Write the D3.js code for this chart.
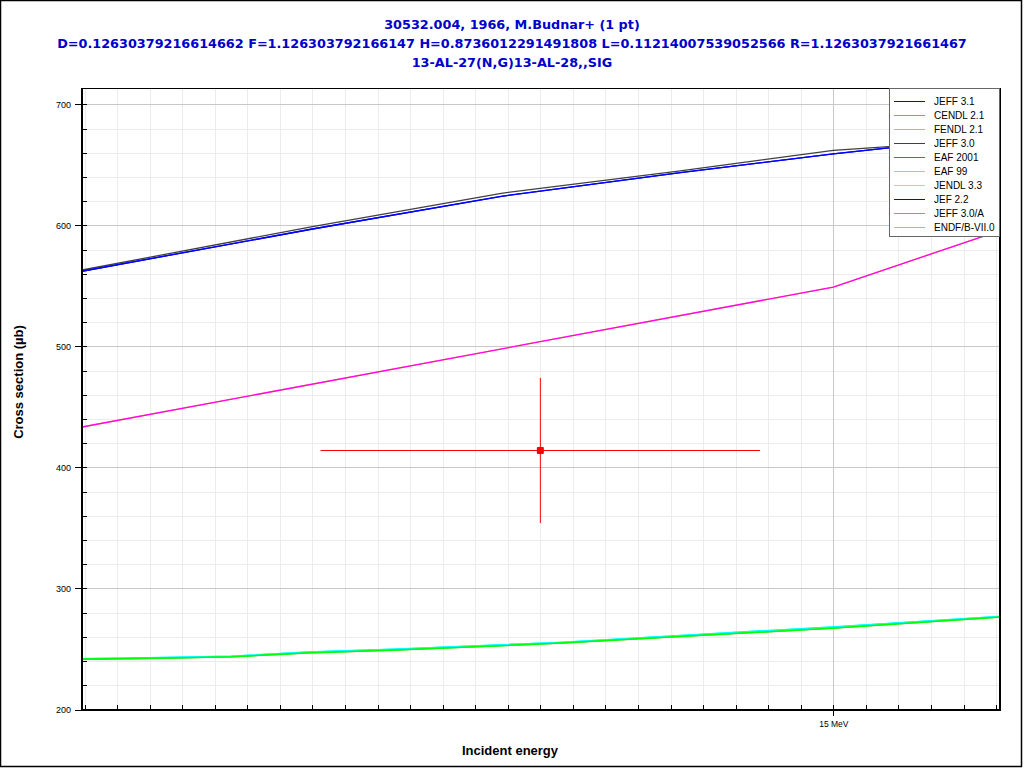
<!DOCTYPE html>
<html>
<head>
<meta charset="utf-8">
<script src="https://cdn.jsdelivr.net/npm/d3@7"></script>
<style>
html,body{margin:0;padding:0;background:#fff;}
svg{display:block;}
</style>
</head>
<body>
<svg id="chart" width="1024" height="768"></svg>
<script>
// ---- data ----
const titleLines = [
  "30532.004, 1966, M.Budnar+ (1 pt)",
  "D=0.12630379216614662 F=1.126303792166147 H=0.8736012291491808 L=0.11214007539052566 R=1.1263037921661467",
  "13-AL-27(N,G)13-AL-28,,SIG"
];
const xTitle = "Incident energy";
const yTitle = "Cross section (\u00b5b)";
const yTicks = [200, 300, 400, 500, 600, 700];
const xMajorTicks = [15];
const xTickLabels = ["15 MeV"];

const energyUpper = [12.69, 13.4, 13.98, 14.53, 15.0, 15.17, 15.51];
const jeff31 = [562.0, 597.0, 624.0, 643.5, 659.0, 664.0, 672.0];
const jeff30 = [563.0, 599.0, 626.5, 645.0, 662.0, 665.0, 670.0];
const jef22  = [562.0, 597.0, 624.0, 643.5, 659.0, 664.0, 672.0];

const energyEaf = [12.69, 15.0, 15.51];
const eaf2001 = [433.3, 549.0, 595.5];
const eaf99   = [433.3, 549.0, 595.5];

const energyLower = [12.69, 12.95, 13.15, 13.39, 13.65, 14.16, 15.0, 15.51];
const cendl21  = [241.5, 242.4, 243.5, 246.8, 249.0, 254.8, 267.2, 276.3];
const fendl21  = [242.1, 243.0, 244.1, 247.5, 249.8, 255.5, 268.3, 276.9];
const jendl33  = [241.3, 242.3, 243.4, 246.7, 248.9, 254.7, 267.0, 276.2];
const jeff30a  = [241.5, 242.4, 243.5, 246.8, 249.0, 254.8, 267.2, 276.3];
const endfb70  = [242.1, 243.0, 244.1, 247.5, 249.8, 255.5, 268.3, 276.9];

const expE = [14.1], expDE = [0.675], expSig = [414], expDSig = [60];

const legendNames = ["JEFF 3.1","CENDL 2.1","FENDL 2.1","JEFF 3.0","EAF 2001","EAF 99","JENDL 3.3","JEF 2.2","JEFF 3.0/A","ENDF/B-VII.0"];
const legendColors = ["#0000ff","#00ff00","#00ffff","#404040","#ff00ff","#ffc000","#ffb0b0","#0000ff","#00ff00","#00ffff"];

// ---- drawing ----
const svg = d3.select("#chart");
const L = 82, R = 1000, T = 88, B = 710;
const x = d3.scaleLinear().domain([12.692, 15.512]).range([L, R]);
const y = d3.scaleLinear().domain([200, 713.5]).range([709.5, T]);

// outer frame
svg.append("rect").attr("x",0.5).attr("y",0.5).attr("width",1021).attr("height",766)
  .attr("fill","#fff").attr("stroke","#000").attr("stroke-width",1.5);

const g = svg.append("g");
// minor grid
const xMinor = d3.range(127, 156).map(v => v / 10).filter(v => Math.abs(v - 15) > 1e-6);
const yMinor = d3.range(220, 714, 20).filter(v => v % 100 !== 0);
g.selectAll(".gxm").data(xMinor).enter().append("line")
  .attr("x1", d => Math.round(x(d)) + 0.5).attr("x2", d => Math.round(x(d)) + 0.5)
  .attr("y1", T).attr("y2", B).attr("stroke", "#ececec").attr("stroke-width", 1);
g.selectAll(".gym").data(yMinor).enter().append("line")
  .attr("y1", d => Math.round(y(d)) + 0.5).attr("y2", d => Math.round(y(d)) + 0.5)
  .attr("x1", L).attr("x2", R).attr("stroke", "#ececec").attr("stroke-width", 1);
// major grid
g.selectAll(".gxM").data(xMajorTicks).enter().append("line")
  .attr("x1", d => Math.round(x(d)) + 0.5).attr("x2", d => Math.round(x(d)) + 0.5)
  .attr("y1", T).attr("y2", B).attr("stroke", "#c8c8c8").attr("stroke-width", 1);
g.selectAll(".gyM").data(yTicks.filter(v => v > 200)).enter().append("line")
  .attr("y1", d => Math.round(y(d)) + 0.5).attr("y2", d => Math.round(y(d)) + 0.5)
  .attr("x1", L).attr("x2", R).attr("stroke", "#c8c8c8").attr("stroke-width", 1);

// curves
const series = [
  {e: energyEaf, v: eaf99, c: legendColors[5]},
  {e: energyLower, v: jendl33, c: legendColors[6]},
  {e: energyLower, v: fendl21, c: legendColors[2]},
  {e: energyLower, v: endfb70, c: legendColors[9]},
  {e: energyLower, v: cendl21, c: legendColors[1]},
  {e: energyLower, v: jeff30a, c: legendColors[8]},
  {e: energyEaf, v: eaf2001, c: legendColors[4]},
  {e: energyUpper, v: jeff30, c: legendColors[3]},
  {e: energyUpper, v: jef22, c: legendColors[7]},
  {e: energyUpper, v: jeff31, c: legendColors[0]}
];
const line = d3.line().x(d => x(d[0])).y(d => y(d[1]));
svg.append("clipPath").attr("id","pc").append("rect")
  .attr("x", L).attr("y", T).attr("width", R - L).attr("height", B - T);
const cg = svg.append("g").attr("clip-path","url(#pc)");
series.forEach(s => {
  cg.append("path").datum(s.e.map((e, i) => [e, s.v[i]]))
    .attr("d", line).attr("fill","none").attr("stroke", s.c).attr("stroke-width", 1.3);
});

// experimental point
const ptg = cg.append("g");
expE.forEach((e, i) => {
  ptg.append("line").attr("x1", x(e - expDE[i])).attr("x2", x(e + expDE[i]))
    .attr("y1", y(expSig[i])).attr("y2", y(expSig[i])).attr("stroke", "#ff0000").attr("stroke-width", 1);
  ptg.append("line").attr("x1", x(e)).attr("x2", x(e))
    .attr("y1", y(expSig[i] - expDSig[i])).attr("y2", y(expSig[i] + expDSig[i])).attr("stroke", "#ff0000").attr("stroke-width", 1);
  ptg.append("rect").attr("x", x(e) - 3.5).attr("y", y(expSig[i]) - 3.5).attr("width", 7).attr("height", 7)
    .attr("rx", 1).attr("fill", "#ff0000");
});

// frame of plot
svg.append("line").attr("x1", L).attr("x2", R).attr("y1", T + 0.5).attr("y2", T + 0.5).attr("stroke", "#000");
svg.append("line").attr("x1", R).attr("x2", R).attr("y1", T).attr("y2", B + 1).attr("stroke", "#000").attr("stroke-width", 2);
svg.append("line").attr("x1", L).attr("x2", L).attr("y1", T).attr("y2", B + 1).attr("stroke", "#000").attr("stroke-width", 2);
svg.append("line").attr("x1", L - 1).attr("x2", R + 1).attr("y1", B).attr("y2", B).attr("stroke", "#000").attr("stroke-width", 2);

// ticks
const tg = svg.append("g").attr("stroke", "#000").attr("stroke-width", 1);
yMinor.forEach(v => tg.append("line").attr("x1", L).attr("x2", L + 5)
  .attr("y1", Math.round(y(v)) + 0.5).attr("y2", Math.round(y(v)) + 0.5));
yTicks.forEach(v => tg.append("line").attr("x1", L - 7).attr("x2", L + 5)
  .attr("y1", Math.round(y(v)) + 0.5).attr("y2", Math.round(y(v)) + 0.5));
xMinor.forEach(v => tg.append("line").attr("y1", B).attr("y2", B - 5)
  .attr("x1", Math.round(x(v)) + 0.5).attr("x2", Math.round(x(v)) + 0.5));
xMajorTicks.forEach(v => tg.append("line").attr("y1", B - 5).attr("y2", B + 6)
  .attr("x1", Math.round(x(v)) + 0.5).attr("x2", Math.round(x(v)) + 0.5));

const fnt = "'Liberation Sans', Arial, sans-serif";
svg.selectAll(".yl").data(yTicks).enter().append("text")
  .attr("x", 71).attr("y", d => y(d) + 3.5).attr("text-anchor", "end")
  .attr("font-family", fnt).attr("font-size", 9).attr("fill", "#000").text(d => d);
svg.selectAll(".xl").data(xMajorTicks).enter().append("text")
  .attr("x", d => x(d) + 0.5).attr("y", 727).attr("text-anchor", "middle")
  .attr("font-family", fnt).attr("font-size", 8.5).attr("fill", "#000").text((d, i) => xTickLabels[i]);

// axis titles
svg.append("text").attr("x", 510).attr("y", 755).attr("text-anchor", "middle")
  .attr("font-family", fnt).attr("font-weight", "bold").attr("font-size", 13).text(xTitle);
svg.append("text").attr("transform", "translate(23,382) rotate(-90)").attr("text-anchor", "middle")
  .attr("font-family", fnt).attr("font-weight", "bold").attr("font-size", 13).text(yTitle);

// title
const tb = [29, 48, 67];
titleLines.forEach((t, i) => svg.append("text").attr("x", 512).attr("y", tb[i]).attr("text-anchor", "middle")
  .attr("font-family", "'DejaVu Sans', sans-serif").attr("font-weight", "bold").attr("font-size", 12.8)
  .attr("fill", "#0000cc").text(t));

// legend
const lg = svg.append("g");
lg.append("rect").attr("x", 889.5).attr("y", 88.5).attr("width", 110).attr("height", 148)
  .attr("fill", "#fff").attr("stroke", "#666").attr("stroke-width", 1);
legendNames.forEach((n, i) => {
  const yy = 101 + i * 14;
  lg.append("line").attr("x1", 894).attr("x2", 925).attr("y1", yy + 0.5).attr("y2", yy + 0.5)
    .attr("stroke", legendColors[i]).attr("stroke-width", 1);
  lg.append("text").attr("x", 934).attr("y", yy + 3.5).attr("font-family", fnt).attr("font-size", 10)
    .attr("fill", "#000").text(n);
});
</script>
</body>
</html>
